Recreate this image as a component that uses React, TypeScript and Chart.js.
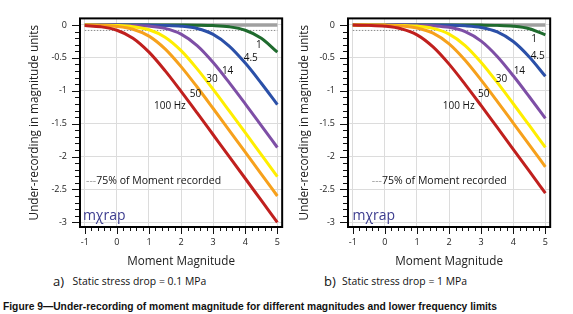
import React, { useEffect, useRef } from 'react';
import { Chart, registerables } from 'chart.js';

Chart.register(...registerables);

// ---------- data ----------
const magnitudes = [-1, -0.5, 0, 0.5, 1, 1.5, 2, 2.5, 3, 3.5, 4, 4.5, 5];

// (a) static stress drop = 0.1 MPa
const a100Hz = [-0.009, -0.028, -0.080, -0.201, -0.413, -0.694, -1.009, -1.336, -1.668, -2.0, -2.333, -2.667, -3.0];
const a50Hz = [-0.002, -0.007, -0.022, -0.065, -0.169, -0.363, -0.633, -0.943, -1.269, -1.6, -1.932, -2.265, -2.599];
const a30Hz = [-0.001, -0.003, -0.008, -0.025, -0.073, -0.186, -0.39, -0.667, -0.979, -1.306, -1.637, -1.97, -2.303];
const a14Hz = [0, -0.001, -0.002, -0.006, -0.017, -0.052, -0.14, -0.314, -0.571, -0.876, -1.199, -1.53, -1.862];
const a4_5Hz = [0, 0, 0, -0.001, -0.002, -0.006, -0.018, -0.053, -0.143, -0.32, -0.579, -0.885, -1.209];
const a1Hz = [0, 0, 0, 0, 0, 0, -0.001, -0.003, -0.009, -0.028, -0.08, -0.201, -0.413];

// (b) static stress drop = 1 MPa
const b100Hz = [-0.002, -0.006, -0.019, -0.057, -0.15, -0.333, -0.595, -0.902, -1.226, -1.557, -1.889, -2.222, -2.556];
const b50Hz = [0, -0.002, -0.005, -0.015, -0.046, -0.125, -0.288, -0.537, -0.838, -1.16, -1.49, -1.822, -2.155];
const b30Hz = [0, -0.001, -0.002, -0.006, -0.017, -0.051, -0.139, -0.312, -0.569, -0.873, -1.197, -1.527, -1.859];
const b14Hz = [0, 0, 0, -0.001, -0.004, -0.012, -0.036, -0.102, -0.246, -0.479, -0.772, -1.091, -1.42];
const b4_5Hz = [0, 0, 0, 0, 0, -0.001, -0.004, -0.012, -0.037, -0.105, -0.251, -0.486, -0.78];
const b1Hz = [0, 0, 0, 0, 0, 0, 0, -0.001, -0.002, -0.006, -0.019, -0.057, -0.15];

const seriesLabels = ['100 Hz', '50', '30', '14', '4.5', '1'];
const seriesColors = ['#C0201E', '#F6A11C', '#FFEE00', '#7E4FA6', '#2B50A8', '#1F6B2E'];

// full-moment reference line and the 75% of moment recorded level
const referenceX = [-1, 5];
const fullMomentLevel = [0, 0];
const level75 = [-0.083, -0.083];

const xTickValues = [-1, 0, 1, 2, 3, 4, 5];
const yTickValues = [0, -0.5, -1, -1.5, -2, -2.5, -3];

const FONT = '"Open Sans", sans-serif';

type Panel = {
  series: number[][];
  labelAt: number[][];
  noteAt: number[];
  logoAt: number[];
  left: number;
  padRight: number;
  titlePad: number;
};

const panelA: Panel = {
  series: [a100Hz, a50Hz, a30Hz, a14Hz, a4_5Hz, a1Hz],
  labelAt: [[1.65, -1.23], [2.45, -1.05], [2.96, -0.82], [3.45, -0.7], [4.17, -0.51], [4.42, -0.31]],
  noteAt: [-0.96, -2.37],
  logoAt: [-1.06, -2.965],
  left: 0,
  padRight: 3,
  titlePad: 28,
};

const panelB: Panel = {
  series: [b100Hz, b50Hz, b30Hz, b14Hz, b4_5Hz, b1Hz],
  labelAt: [[2.3, -1.23], [3.08, -1.05], [3.63, -0.82], [4.19, -0.7], [4.76, -0.48], [4.65, -0.22]],
  noteAt: [-0.41, -2.37],
  logoAt: [-1.01, -2.965],
  left: 268,
  padRight: 2.5,
  titlePad: 30,
};

function makeOverlay(panel: Panel) {
  return {
    id: 'overlay',
    afterDatasetsDraw(chart: any) {
      const { ctx, chartArea: a, scales } = chart;
      const x = scales.x;
      const y = scales.y;
      ctx.save();
      // curve labels
      ctx.font = `10px ${FONT}`;
      ctx.fillStyle = '#111';
      ctx.textAlign = 'center';
      ctx.textBaseline = 'middle';
      seriesLabels.forEach((t, i) => {
        const p = panel.labelAt[i];
        ctx.fillText(t, x.getPixelForValue(p[0]), y.getPixelForValue(p[1]));
      });
      // 75% note
      ctx.textAlign = 'left';
      ctx.font = `10.5px ${FONT}`;
      const nx = x.getPixelForValue(panel.noteAt[0]);
      const ny = y.getPixelForValue(panel.noteAt[1]);
      ctx.fillStyle = '#9A9A9A';
      ctx.fillText('---', nx, ny);
      const dw = ctx.measureText('---').width;
      ctx.fillStyle = '#111';
      ctx.fillText('75% of Moment recorded', nx + dw, ny);
      // logo
      ctx.font = `14px ${FONT}`;
      ctx.fillStyle = '#3B3B8E';
      ctx.textBaseline = 'alphabetic';
      ctx.fillText('mχrap', x.getPixelForValue(panel.logoAt[0]), y.getPixelForValue(panel.logoAt[1]));
      ctx.restore();
    },
    afterDraw(chart: any) {
      const { ctx, chartArea: a, scales } = chart;
      const x = scales.x;
      const y = scales.y;
      ctx.save();
      ctx.strokeStyle = '#111';
      ctx.lineWidth = 1;
      ctx.beginPath();
      for (let i = 0; i <= 30; i++) {
        const v = xTickValues[0] + i * 0.2;
        const px = Math.round(x.getPixelForValue(v)) + 0.5;
        const major = i % 5 === 0;
        ctx.moveTo(px, a.bottom);
        ctx.lineTo(px, a.bottom + (major ? 7 : 4));
      }
      for (let i = 0; i <= 30; i++) {
        const v = -i * 0.1;
        const py = Math.round(y.getPixelForValue(v)) + 0.5;
        const major = i % 5 === 0;
        ctx.moveTo(a.left, py);
        ctx.lineTo(a.left - (major ? 8 : 5), py);
      }
      ctx.stroke();
      ctx.lineWidth = 2;
      ctx.strokeStyle = '#000';
      ctx.strokeRect(a.left, a.top, a.right - a.left, a.bottom - a.top);
      ctx.restore();
    },
  };
}

function buildConfig(panel: Panel): any {
  const datasets: any[] = panel.series.map((vals, i) => ({
    label: seriesLabels[i],
    data: magnitudes.map((m, j) => ({ x: m, y: vals[j] })),
    borderColor: seriesColors[i],
    borderWidth: 3,
    pointRadius: 0,
    cubicInterpolationMode: 'monotone',
    fill: false,
  }));
  datasets.push({
    label: 'full',
    data: referenceX.map((m, j) => ({ x: m, y: fullMomentLevel[j] })),
    borderColor: '#A0A0A0',
    borderWidth: 3.5,
    pointRadius: 0,
  });
  datasets.push({
    label: '75%',
    data: referenceX.map((m, j) => ({ x: m, y: level75[j] })),
    borderColor: '#8A8A8A',
    borderWidth: 1,
    borderDash: [1.5, 1.5],
    pointRadius: 0,
  });
  return {
    type: 'line',
    data: { datasets },
    options: {
      responsive: false,
      animation: false,
      layout: { padding: { top: 6, right: panel.padRight, left: 0, bottom: 0 } },
      plugins: { legend: { display: false }, tooltip: { enabled: false }, title: { display: false } },
      scales: {
        x: {
          type: 'linear',
          min: -1.15,
          max: 5.15,
          afterBuildTicks: (s: any) => {
            s.ticks = xTickValues.map((v) => ({ value: v }));
          },
          afterFit: (s: any) => {
            s.height = 43;
          },
          grid: { color: '#DCDCDC', lineWidth: 1, drawTicks: false },
          border: { display: false },
          ticks: {
            padding: 10,
            autoSkip: false,
            maxRotation: 0,
            color: '#222',
            font: { family: FONT, size: 9 },
            callback: (v: any) => String(v),
          },
          title: {
            display: true,
            text: 'Moment Magnitude',
            color: '#222',
            font: { family: FONT, size: 11.7 },
            padding: { top: 0, bottom: 1 },
          },
        },
        y: {
          type: 'linear',
          min: -3.07,
          max: 0.1,
          afterBuildTicks: (s: any) => {
            s.ticks = yTickValues.map((v) => ({ value: v }));
          },
          afterFit: (s: any) => {
            s.width = 80;
          },
          grid: { color: '#DCDCDC', lineWidth: 1, drawTicks: false },
          border: { display: false },
          ticks: {
            padding: 13,
            autoSkip: false,
            color: '#222',
            font: { family: FONT, size: 9 },
            callback: (v: any) => String(v),
          },
          title: {
            display: true,
            text: 'Under-recording in magnitude units',
            color: '#222',
            font: { family: FONT, size: 11.7 },
            padding: { top: panel.titlePad, bottom: 0 },
          },
        },
      },
    },
    plugins: [makeOverlay(panel)],
  };
}

function ChartPanel({ panel }: { panel: Panel }) {
  const ref = useRef<HTMLCanvasElement | null>(null);
  useEffect(() => {
    if (!ref.current) return;
    const chart = new Chart(ref.current, buildConfig(panel));
    return () => chart.destroy();
  }, [panel]);
  return (
    <canvas
      ref={ref}
      width={290}
      height={270}
      style={{ position: 'absolute', left: panel.left, top: 0, width: 290, height: 270 }}
    />
  );
}

export default function App() {
  const capRef = useRef<HTMLSpanElement | null>(null);
  useEffect(() => {
    const el = capRef.current;
    if (!el) return;
    const w = el.getBoundingClientRect().width;
    if (w > 0) el.style.transform = `scaleX(${494 / w})`;
  }, []);
  const sub = { position: 'absolute' as const, fontFamily: FONT, color: '#111', whiteSpace: 'nowrap' as const };
  return (
    <div style={{ position: 'absolute', left: 0, top: 0, width: 573, height: 314, background: '#fff', overflow: 'hidden' }}>
      <ChartPanel panel={panelA} />
      <ChartPanel panel={panelB} />
      <div style={{ ...sub, left: 53, top: 273, fontSize: 13, lineHeight: '16px' }}>a)</div>
      <div style={{ ...sub, left: 72.5, top: 274, fontSize: 10.4, lineHeight: '14px' }}>Static stress drop = 0.1 MPa</div>
      <div style={{ ...sub, left: 324, top: 273, fontSize: 13, lineHeight: '16px' }}>b)</div>
      <div style={{ ...sub, left: 342, top: 274, fontSize: 10.4, lineHeight: '14px' }}>Static stress drop = 1 MPa</div>
      <div style={{ position: 'absolute', left: 3, top: 299, lineHeight: '12px', whiteSpace: 'nowrap' }}>
        <span
          ref={capRef}
          style={{ display: 'inline-block', transformOrigin: '0 0', fontFamily: '"Liberation Sans", Arial, sans-serif', fontWeight: 'bold', fontSize: 10, color: '#111' }}
        >
          Figure 9—Under-recording of moment magnitude for different magnitudes and lower frequency limits
        </span>
      </div>
    </div>
  );
}
